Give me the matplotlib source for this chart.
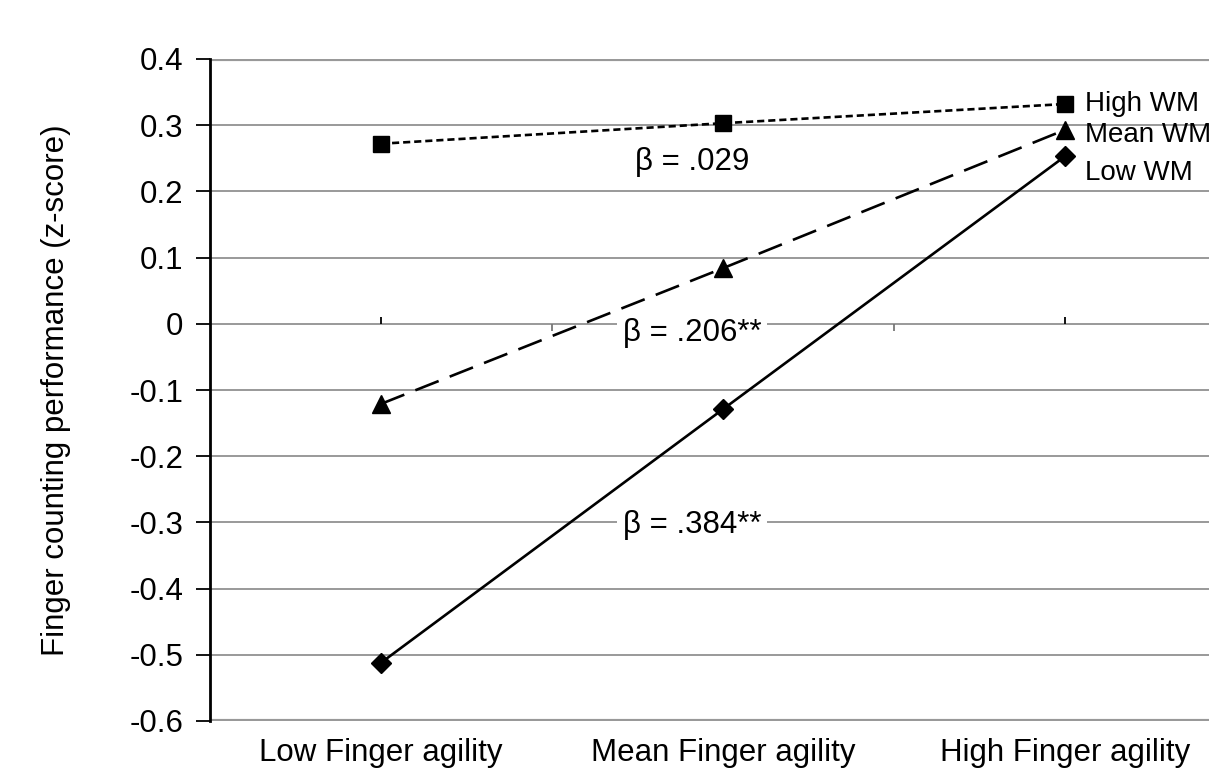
import matplotlib.pyplot as plt
import numpy as np

plt.rcParams['font.family'] = ['Liberation Sans', 'DejaVu Sans']

## data
categories = ["Low Finger agility", "Mean Finger agility", "High Finger agility"]
high_wm = [0.272, 0.303, 0.332]
mean_wm = [-0.121, 0.084, 0.293]
low_wm = [-0.512, -0.129, 0.253]
series_names = ["High WM", "Mean WM", "Low WM"]
betas = ["β = .029", "β = .206**", "β = .384**"]
beta_y = [0.244, -0.014, -0.304]
yticks = np.round(np.arange(-0.6, 0.41, 0.1), 1)

fs = 22.5
fig = plt.figure(figsize=(12.09, 7.73), dpi=100)
# axes runs past the right edge like the original
ax = fig.add_axes([210/1209, 1-721/773, 1026/1209, 662/773])

x = np.arange(len(categories))
ax.set_xlim(-0.5, 2.5)
ax.set_ylim(-0.6, 0.4)

gray = '#999999'
for v in yticks:
    w = 3 if v in (-0.6, 0.4) else 1.4
    ax.axhline(v, color=gray, lw=w, zorder=1)

ax.plot(x, high_wm, color='k', lw=1.9, ls=(0, (2.7, 1.5)), marker='s', ms=11.5, zorder=3)
ax.plot(x, mean_wm, color='k', lw=1.9, ls=(0, (9.5, 4.5)), marker='^', ms=12.5, zorder=3)
ax.plot(x, low_wm, color='k', lw=1.9, ls='-', marker='D', ms=10.5, zorder=3)

## series labels at right end
ends = [high_wm[-1], mean_wm[-1], low_wm[-1]]
offs = [0.0, -0.008, -0.025]
for name, yv, o in zip(series_names, ends, offs):
    ax.text(x[-1] + 0.058, yv + o, name, fontsize=20, va='center', ha='left', zorder=4)

## beta annotations with white box
for b, yv in zip(betas, beta_y):
    ax.text(0.91, yv, b, fontsize=fs, ha='center', va='center', zorder=2,
            bbox=dict(facecolor='white', edgecolor='none', pad=4))

## small ticks on zero line
ax.vlines(x[[0, 2]], 0, 0.011, color='k', lw=1.3, zorder=2)
ax.vlines([0.5, 1.5], -0.011, 0, color='#777777', lw=1.3, zorder=2)

ax.set_yticks(yticks)
ax.set_yticklabels([('%g' % v) if v != 0 else '0' for v in yticks], fontsize=fs)
ax.set_xticks(x)
ax.set_xticklabels(categories, fontsize=fs)
ax.tick_params(axis='x', length=0, pad=12)
ax.tick_params(axis='y', length=10, width=1.3, pad=9)

for s in ['top', 'right', 'bottom']:
    ax.spines[s].set_visible(False)
ax.spines['left'].set_linewidth(2)
ax.set_ylabel("Finger counting performance (z-score)", fontsize=fs, labelpad=42)

fig.savefig("out.png", dpi=100)
